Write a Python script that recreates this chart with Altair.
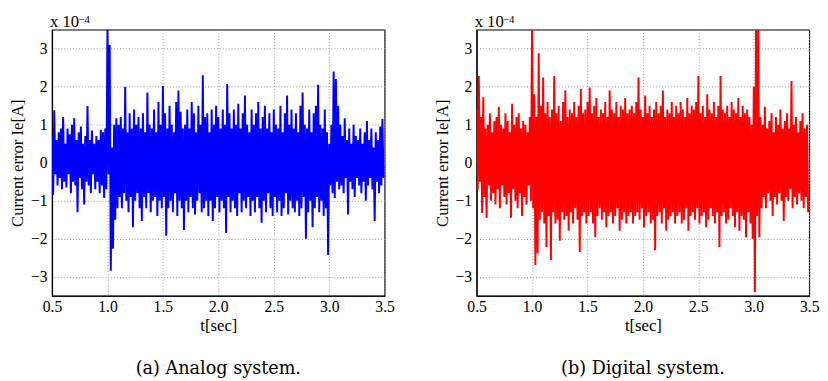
import altair as alt
import pandas as pd

# sample grid: highs at 0.50, 0.52, ... ; lows half a step later
t_start = 0.5
t_step = 0.02

analog_hi = [
    0.7, 1.38, 0.6, 0.8, 0.9, 1.2, 0.5, 0.9, 0.75, 1.0,
    1.17, 0.6, 0.8, 0.95, 0.5, 0.7, 1.49, 0.6, 0.85, 0.5,
    0.7, 0.6, 0.87, 0.8, 0.9, 3.6, 3.1, 0.4, 1.0, 1.17,
    1.0, 1.2, 0.9, 2.0, 0.8, 1.3, 0.9, 1.4, 1.0, 1.2,
    0.9, 1.3, 0.8, 1.85, 1.0, 0.9, 1.4, 0.8, 1.6, 1.0,
    2.02, 1.3, 0.9, 1.5, 1.0, 0.8, 1.6, 1.9, 1.34, 0.9,
    1.0, 1.4, 0.9, 1.6, 1.3, 0.8, 1.5, 1.0, 2.3, 1.2,
    1.3, 0.8, 1.4, 1.0, 1.5, 1.2, 0.9, 1.4, 1.0, 2.07,
    1.3, 0.9, 1.4, 1.0, 1.55, 0.9, 1.3, 1.77, 1.0, 0.8,
    1.4, 1.0, 1.3, 1.6, 0.9, 1.2, 1.5, 0.9, 1.3, 0.8,
    1.4, 1.0, 0.9, 1.5, 0.8, 1.3, 1.77, 1.0, 1.4, 0.9,
    1.3, 0.8, 1.5, 1.85, 1.0, 0.9, 1.4, 0.8, 1.3, 1.5,
    2.05, 1.0, 0.9, 1.4, 0.8, 0.5, 1.0, 2.4, 2.2, 1.5,
    1.0, 0.7, 1.17, 0.6, 0.9, 0.5, 1.0, 0.7, 0.6, 0.9,
    0.5, 0.8, 1.1, 0.6, 0.9, 0.4, 0.8, 0.6, 0.95, 1.15,
]
analog_lo = [
    -0.85, -0.3, -0.6, -0.4, -0.7, -0.5, -0.65, -0.3, -0.8, -0.5,
    -0.6, -1.3, -0.4, -0.7, -1.1, -0.5, -0.6, -0.8, -0.3, -0.7,
    -0.5, -0.8, -0.6, -0.93, -0.7, -0.3, -2.84, -2.26, -1.5, -1.2,
    -0.9, -1.2, -0.8, -1.0, -1.3, -0.9, -1.7, -1.0, -0.8, -1.2,
    -1.53, -0.9, -1.2, -0.8, -1.3, -1.0, -0.9, -1.4, -1.0, -1.2,
    -0.9, -1.92, -1.2, -1.0, -1.3, -0.8, -1.4, -1.0, -1.2, -1.77,
    -1.0, -1.3, -0.9, -1.2, -1.36, -1.0, -0.8, -1.3, -1.2, -1.0,
    -1.4, -1.0, -1.53, -1.2, -0.9, -1.3, -1.0, -1.2, -1.85, -0.9,
    -1.3, -1.0, -1.2, -1.4, -0.8, -1.3, -1.0, -1.2, -0.9, -1.4,
    -1.0, -1.3, -0.9, -1.2, -1.58, -1.0, -1.3, -0.8, -1.2, -1.4,
    -0.9, -1.3, -1.0, -1.4, -1.2, -0.8, -1.36, -1.0, -1.2, -1.3,
    -1.0, -1.4, -1.2, -0.9, -2.0, -1.3, -1.0, -1.7, -1.2, -0.9,
    -1.3, -1.0, -1.4, -1.2, -2.43, -0.6, -0.8, -0.93, -0.5, -0.7,
    -0.6, -0.8, -0.4, -1.36, -0.5, -0.7, -0.9, -0.4, -0.6, -0.8,
    -0.5, -1.0, -0.6, -0.4, -0.7, -1.53, -0.5, -0.8, -0.6, -0.4,
]
digital_hi = [
    1.38, 2.28, 1.2, 1.72, 0.9, 1.0, 1.3, 0.8, 1.1, 1.2,
    1.47, 1.0, 0.9, 1.3, 1.1, 0.8, 1.55, 1.0, 1.2, 1.3,
    0.9, 1.1, 1.0, 0.8, 1.2, 3.6, 1.8, 1.2, 2.88, 1.5,
    2.24, 1.3, 1.6, 1.2, 1.4, 2.28, 1.3, 1.5, 1.1, 1.6,
    1.9, 1.2, 1.4, 1.3, 1.6, 1.2, 1.5, 1.94, 1.3, 1.4,
    1.6, 1.98, 1.3, 1.5, 1.7, 1.2, 1.4, 1.3, 1.6, 1.2,
    1.9, 1.4, 1.3, 1.6, 1.2, 1.5, 1.4, 1.7, 1.3, 1.4,
    1.5, 1.3, 1.6, 2.24, 1.4, 1.2, 1.77, 1.3, 1.5, 1.2,
    1.4, 1.6, 1.3, 1.5, 1.9, 1.2, 1.4, 1.3, 1.6, 1.2,
    1.5, 1.3, 1.6, 1.4, 1.2, 1.7, 1.3, 1.5, 1.4, 1.6,
    2.28, 1.3, 1.5, 1.2, 1.8, 1.4, 1.3, 1.6, 1.2, 1.5,
    2.28, 1.4, 1.3, 1.5, 1.2, 1.6, 1.4, 1.3, 1.7, 1.2,
    1.5, 1.3, 1.4, 1.2, 1.0, 2.0, 3.6, 3.6, 1.2, 1.0,
    1.47, 0.9, 1.1, 1.3, 0.8, 1.2, 1.0, 1.4, 0.9, 1.1,
    1.3, 0.9, 2.15, 1.0, 1.2, 0.8, 1.1, 1.3, 0.9, 1.0,
]
digital_lo = [
    -0.72, -0.5, -1.32, -0.9, -1.45, -0.6, -1.0, -0.8, -1.1, -0.7,
    -1.2, -0.6, -0.9, -1.1, -0.8, -1.45, -0.7, -1.0, -1.2, -0.8,
    -1.4, -0.9, -1.1, -0.6, -1.0, -1.2, -2.69, -2.39, -1.5, -1.3,
    -1.6, -2.22, -1.4, -2.56, -1.3, -1.6, -1.5, -2.05, -1.3, -1.5,
    -1.4, -1.79, -1.3, -1.6, -1.2, -1.5, -2.35, -1.4, -1.3, -1.6,
    -1.4, -1.3, -1.6, -1.96, -1.4, -1.2, -1.5, -1.3, -1.7, -1.4,
    -1.3, -1.6, -1.4, -1.2, -1.79, -1.5, -1.3, -1.6, -1.4, -1.3,
    -1.6, -1.4, -1.3, -1.5, -1.2, -1.7, -1.4, -1.3, -1.6, -1.5,
    -2.3, -1.4, -1.3, -1.6, -1.2, -1.79, -1.5, -1.4, -1.3, -1.6,
    -1.4, -1.3, -1.6, -1.5, -1.2, -1.79, -1.4, -1.3, -1.5, -1.2,
    -1.6, -1.4, -1.3, -1.7, -1.5, -1.2, -1.4, -1.6, -1.3, -2.22,
    -1.4, -1.3, -1.6, -1.5, -1.2, -1.4, -1.7, -1.3, -1.79, -1.4,
    -1.5, -1.96, -1.3, -1.6, -2.0, -3.4, -1.4, -1.96, -1.2, -0.9,
    -1.2, -0.8, -1.0, -1.4, -0.9, -1.1, -0.8, -1.0, -1.53, -0.9,
    -1.0, -0.7, -1.2, -0.9, -1.1, -0.8, -1.0, -1.2, -0.9, -1.3,
]

x_ticks = [0.5, 1.0, 1.5, 2.0, 2.5, 3.0, 3.5]
y_ticks = [-3, -2, -1, 0, 1, 2, 3]
captions = ["(a)  Analog system.", "(b)  Digital system."]
colors = ["#0000ff", "#ff0000"]

SERIF = "'Liberation Serif', 'Times New Roman', Times, serif"
CAPTION_FONT = "'DejaVu Serif', serif"


def series(hi, lo):
    rows = []
    for i, (h, l) in enumerate(zip(hi, lo)):
        t = t_start + t_step * i
        rows.append({"t": round(t, 3), "v": h})
        rows.append({"t": round(t + t_step / 2, 3), "v": l})
    return pd.DataFrame(rows)


def panel(df, color, caption):
    line = alt.Chart(df).mark_line(color=color, strokeWidth=2, clip=True).encode(
        x=alt.X("t:Q",
                scale=alt.Scale(domain=[0.5, 3.5], nice=False, zero=False),
                axis=alt.Axis(values=x_ticks, format=".1f", title="t[sec]",
                              labelFlush=False, grid=True, ticks=False,
                              labelPadding=3, titlePadding=3)),
        y=alt.Y("v:Q",
                scale=alt.Scale(domain=[-3.5, 3.5], nice=False, zero=False),
                axis=alt.Axis(values=y_ticks, format="d",
                              title="Current error Ie[A]", grid=True,
                              ticks=False, labelPadding=5, titlePadding=4)),
        order="t:Q",
    )
    mult = alt.Chart(pd.DataFrame({"s": ["x 10"]})).mark_text(
        align="left", baseline="alphabetic", font=SERIF, fontSize=17
    ).encode(x=alt.value(-2), y=alt.value(-3), text="s:N")
    expo = alt.Chart(pd.DataFrame({"s": ["\u22124"]})).mark_text(
        align="left", baseline="top", font=SERIF, fontSize=11
    ).encode(x=alt.value(27), y=alt.value(-16), text="s:N")
    return alt.layer(line, mult, expo).properties(
        width=340, height=272,
        title=alt.TitleParams(caption, orient="bottom", anchor="middle",
                              font=CAPTION_FONT, fontSize=18,
                              fontWeight="normal", offset=28, color="#000"),
    )


left = panel(series(analog_hi, analog_lo), colors[0], captions[0])
right = panel(series(digital_hi, digital_lo), colors[1], captions[1])

chart = alt.hconcat(left, right, spacing=38).properties(
    padding={"left": 0, "right": 0, "top": 0, "bottom": 0}
).configure_view(
    stroke="#000", strokeWidth=1.2
).configure_axis(
    labelFont=SERIF, labelFontSize=16, labelColor="#000",
    titleFont=SERIF, titleFontSize=17, titleFontWeight="normal", titleColor="#000",
    domainColor="#000", domainWidth=1.2,
    gridColor="#9a9a9a", gridDash=[1, 2], gridWidth=1,
)

chart.save("out.html", embed_options={"renderer": "svg", "actions": False})
